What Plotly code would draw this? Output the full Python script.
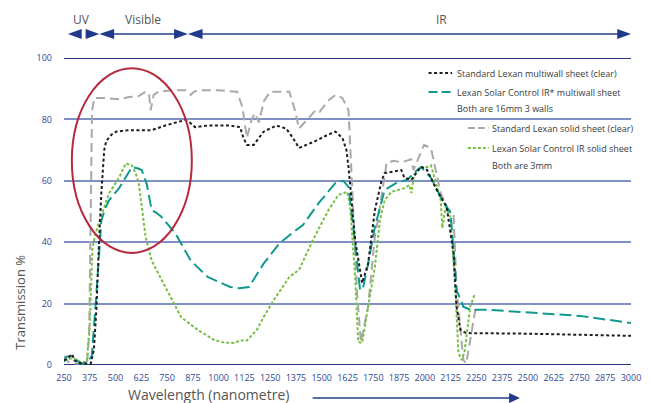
import plotly.graph_objects as go

# ---------------- data ----------------
gray_wl = [250, 270, 300, 340, 362, 372, 380, 386, 398, 450, 520, 565, 610, 646, 662, 670, 685, 708, 770, 840,
           865, 880, 899, 1000, 1090, 1115, 1137, 1160, 1176, 1195, 1220, 1250, 1280, 1343, 1370, 1390, 1430,
           1471, 1490, 1530, 1567, 1600, 1630, 1648, 1672, 1690, 1725, 1758, 1772, 1815, 1850, 1886, 1934, 1945,
           1996, 2030, 2045, 2077, 2110, 2139, 2154, 2187, 2201, 2225, 2244, 2250]
gray_t = [3, 1, 0.5, 0.5, 0.5, 10, 45, 83, 87, 87, 86.5, 87.3, 87.5, 89, 88.5, 83, 88, 89, 89.5, 89.5,
          88, 89, 89.5, 89.5, 89, 84, 74, 80, 82, 79, 86, 89, 89, 89, 83, 77, 80,
          83, 82.5, 86, 88, 87, 83, 56, 23, 7.5, 19, 42, 47, 66, 66.5, 66, 67, 63.5,
          71.7, 70.6, 66, 56, 51, 49.5, 25, 1.6, 0.5, 10, 17, 20]

black_wl = [250, 265, 290, 300, 330, 380, 395, 407, 420, 431, 445, 455, 480, 503, 560, 620, 675, 741, 800, 837,
            860, 885, 947, 1050, 1104, 1120, 1137, 1170, 1218, 1280, 1328, 1360, 1390, 1420, 1471, 1530, 1567,
            1600, 1620, 1630, 1646, 1662, 1696, 1725, 1758, 1790, 1805, 1838, 1886, 1901, 1934, 1982, 2011, 2058,
            2106, 2139, 2154, 2173, 2200, 2500, 2800, 3000]
black_t = [1.5, 2, 3.5, 1.5, 0.5, 0.5, 5, 18, 40, 56, 70, 73, 75, 76, 76.5, 76.5, 76.5, 78, 79, 79.8,
           79, 77.5, 78, 78, 77.5, 74, 71.7, 71.7, 76, 78, 77, 74, 70.7, 71.5, 73, 75, 76,
           74, 70, 64.5, 52, 40.7, 26.7, 33, 50.5, 60, 62.5, 63, 63.5, 61, 60.3, 64.6, 63.5, 57,
           51.5, 36.5, 19, 11.4, 10.4, 10.2, 9.8, 9.5]

teal_wl = [250, 260, 280, 300, 320, 340, 360, 385, 407, 420, 431, 450, 469, 517, 550, 580, 610, 627, 651, 675,
           700, 722, 789, 865, 947, 1000, 1056, 1100, 1147, 1218, 1295, 1376, 1409, 1486, 1567, 1605, 1630,
           1653, 1686, 1700, 1725, 1758, 1805, 1870, 1915, 1963, 1982, 2030, 2077, 2125, 2139, 2154, 2187,
           2220, 2300, 2500, 2750, 3000]
teal_t = [1, 2.6, 3, 2.6, 1, 0.5, 0.5, 3, 23, 38, 47, 51, 53.7, 57.6, 61, 64.5, 64, 63.5, 59, 50.5,
          49.5, 48.3, 43, 34, 28.7, 27, 25.4, 25, 25.4, 33, 39.6, 44, 45.6, 52.8, 59.3, 60, 58,
          45, 24.4, 25, 33, 45, 57, 59.6, 60.3, 63.5, 64.5, 61, 54.7, 49.5, 36.5, 24.4, 19,
          18, 18, 17.2, 16, 13.7]

green_wl = [250, 270, 300, 330, 360, 374, 388, 400, 422, 469, 517, 550, 580, 600, 613, 630, 646, 675, 741, 818,
            899, 980, 1027, 1075, 1104, 1137, 1185, 1218, 1266, 1343, 1390, 1457, 1533, 1581, 1624, 1638, 1650,
            1662, 1677, 1696, 1720, 1758, 1782, 1805, 1838, 1901, 1925, 1935, 1948, 1982, 2011, 2030, 2054,
            2077, 2085, 2101, 2125, 2149, 2163, 2178, 2192, 2220, 2244]
green_t = [1.5, 2, 2, 1, 1, 12, 38, 42, 47, 56, 61, 65.7, 65, 62, 59, 50, 41.7, 34, 25.4, 15.6,
           11.4, 8.1, 7.3, 7.2, 8, 8, 11.4, 15.6, 21, 28.7, 31, 40.7, 50.5, 55.4, 56.4, 51.5, 40,
           28.7, 7.5, 7.2, 17, 32, 47, 53.7, 56.4, 57.6, 58.6, 56, 62, 64.5, 64.5, 65, 59.3,
           53.7, 44.6, 51.5, 48, 23.4, 4, 1.6, 4, 19, 23.4]

x_ticks = list(range(250, 3001, 125))
y_ticks = [0, 20, 40, 60, 80, 100]

legend1 = ["Standard Lexan multiwall sheet (clear)", "Lexan Solar Control IR* multiwall sheet",
           "Both are 16mm 3 walls"]
legend2 = ["Standard Lexan solid sheet (clear)", "Lexan Solar Control IR solid sheet", "Both are 3mm"]
regions = ["UV", "Visible", "IR"]

# ---------------- style ----------------
FONT = "Open Sans"
C_BLACK = "#1e1e1e"
C_TEAL = "#0f9a8e"
C_GRAY = "#a9a9ab"
C_GREEN = "#77c043"
NAVY = "#23367f"
GRID = "#8090c4"
TXT = "#555555"

W, H = 651, 403
L, R, T, B = 64, 10, 58, 38
PW, PH = W - L - R, H - T - B


def px(x):
    return (x - L) / PW


def py(y):
    return (H - B - y) / PH


fig = go.Figure()
series = [
    (gray_wl, gray_t, C_GRAY, "9px,5px"),
    (green_wl, green_t, C_GREEN, "3px,2px"),
    (teal_wl, teal_t, C_TEAL, "12px,5px"),
    (black_wl, black_t, C_BLACK, "3px,2.5px"),
]
for xs, ys, col, dash in series:
    fig.add_trace(go.Scatter(x=xs, y=ys, mode="lines", line=dict(color=col, width=2, dash=dash),
                             showlegend=False, hoverinfo="skip"))

shapes = []
# dark 0 and 100 lines
for yv in (0, 100):
    shapes.append(dict(type="line", xref="paper", yref="y", x0=0, x1=1, y0=yv, y1=yv,
                       line=dict(color=NAVY, width=2), layer="below"))
# red ellipse
shapes.append(dict(type="circle", xref="x", yref="y", x0=288, x1=870, y0=36.5, y1=96.7,
                   line=dict(color="#b52a3c", width=2)))


def tri(tip, base, yc, hh=5):
    return dict(type="path", xref="paper", yref="paper",
                path=f"M {px(tip)} {py(yc)} L {px(base)} {py(yc - hh)} L {px(base)} {py(yc + hh)} Z",
                fillcolor="#1f3a8a", line=dict(width=0))


def hline(x0, x1, yc):
    return dict(type="line", xref="paper", yref="paper", x0=px(x0), x1=px(x1), y0=py(yc), y1=py(yc),
                line=dict(color="#5b6ea8", width=2))


ya = 34
shapes += [hline(112, 178, ya), hline(203, 632, ya),
           tri(68, 82, ya), tri(100, 86, ya), tri(100, 115, ya), tri(190, 176, ya), tri(190, 205, ya),
           tri(641, 627, ya)]
# bottom arrow
shapes += [hline(317, 520, 398), tri(528, 517, 398)]

# legend symbols
def sym(x0, x1, yc, col, dash):
    return dict(type="line", xref="paper", yref="paper", x0=px(x0), x1=px(x1), y0=py(yc), y1=py(yc),
                line=dict(color=col, width=2, dash=dash))


shapes += [sym(435, 459, 73, C_BLACK, "3px,2.5px"), sym(435, 459, 92, C_TEAL, "9px,4px"),
           sym(475, 496, 128, C_GRAY, "7px,3px"), sym(475, 496, 148, C_GREEN, "3px,2px")]

ann = []
for txt, xc in zip(regions, [82, 144, 448]):
    ann.append(dict(text=txt, x=px(xc), y=py(20), xref="paper", yref="paper", showarrow=False,
                    font=dict(family=FONT, size=12, color=TXT), xanchor="center", yanchor="middle"))
for txt, yc in zip(legend1, [73, 92, 109]):
    ann.append(dict(text=txt, x=px(462), y=py(yc), xref="paper", yref="paper", showarrow=False,
                    font=dict(family=FONT, size=9, color="#3a3a3a"), xanchor="left", yanchor="middle"))
for txt, yc in zip(legend2, [128, 148, 165]):
    ann.append(dict(text=txt, x=px(498), y=py(yc), xref="paper", yref="paper", showarrow=False,
                    font=dict(family=FONT, size=9, color="#3a3a3a"), xanchor="left", yanchor="middle"))
ann.append(dict(text="Wavelength (nanometre)", x=px(211), y=py(394), xref="paper", yref="paper",
                showarrow=False, font=dict(family=FONT, size=14, color=TXT),
                xanchor="center", yanchor="middle"))
ann.append(dict(text="Transmission %", x=px(19), y=py(302), xref="paper", yref="paper", textangle=-90,
                showarrow=False, font=dict(family=FONT, size=13, color=TXT),
                xanchor="center", yanchor="middle"))

fig.update_layout(
    width=W, height=H, margin=dict(l=L, r=R, t=T, b=B, pad=0),
    paper_bgcolor="white", plot_bgcolor="white",
    shapes=shapes, annotations=ann, showlegend=False,
    xaxis=dict(range=[250, 3000], tickvals=x_ticks, ticktext=[str(v) for v in x_ticks],
               showgrid=False, zeroline=False, showline=False, ticks="",
               tickfont=dict(family=FONT, size=9, color="#2d4a96"), ticklabelstandoff=6,
               ticklabeloverflow="allow", fixedrange=True),
    yaxis=dict(range=[0, 100], tickvals=y_ticks, ticktext=[str(v) for v in y_ticks],
               showgrid=True, gridcolor=GRID, gridwidth=2, zeroline=False, showline=False, ticks="",
               tickfont=dict(family=FONT, size=9, color="#2d4a96"), ticklabelstandoff=11,
               ticklabeloverflow="allow", fixedrange=True),
)

fig.write_html("out.html", config={"displayModeBar": False},
               post_script="document.body.style.margin='0';document.body.style.overflow='hidden';")
